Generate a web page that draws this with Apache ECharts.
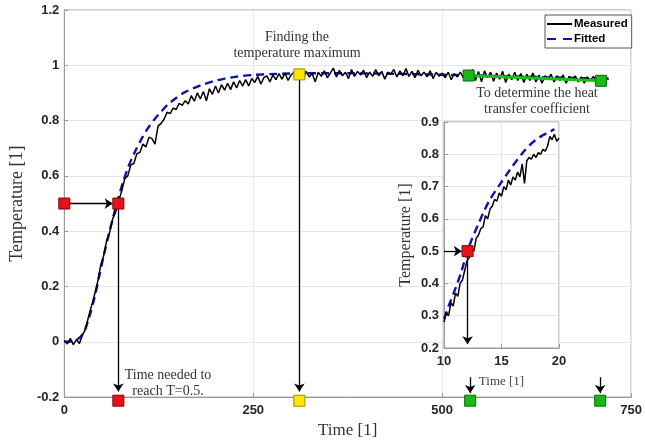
<!DOCTYPE html>
<html>
<head>
<meta charset="utf-8">
<script src="https://cdn.jsdelivr.net/npm/echarts@6/dist/echarts.min.js"></script>
<style>html,body{margin:0;padding:0;background:#fff}#c{width:645px;height:444px}</style>
</head>
<body>
<div id="c"></div>
<script>
// ---------- data ----------
const mainStep = 4; // sample spacing of measured trace (Time units)
const measuredMain = [
0.005,-0.008,0.012,-0.01,0.008,-0.006,0.025,0.045,0.09,0.13,
0.17,0.215,0.275,0.31,0.365,0.395,0.445,0.47,0.51,0.545,
0.59,0.6,0.64,0.645,0.68,0.685,0.715,0.705,0.74,0.735,
0.715,0.78,0.79,0.805,0.83,0.825,0.845,0.84,0.862,0.855,
0.872,0.86,0.89,0.87,0.9,0.878,0.905,0.872,0.915,0.895,
0.925,0.9,0.93,0.91,0.935,0.912,0.94,0.918,0.945,0.925,
0.948,0.925,0.952,0.938,0.96,0.932,0.955,0.962,0.94,0.965,
0.948,0.97,0.95,0.972,0.945,0.965,0.975,0.955,0.968,0.95,
0.978,0.958,0.97,0.94,0.975,0.96,0.98,0.955,0.972,0.99,
0.958,0.982,0.962,0.975,0.952,0.985,0.96,0.978,0.965,0.982,
0.955,0.975,0.96,0.985,0.962,0.978,0.95,0.975,0.968,0.985,
0.958,0.98,0.962,0.988,0.96,0.978,0.955,0.982,0.962,0.975,
0.958,0.98,0.952,0.975,0.96,0.972,0.955,0.975,0.948,0.97,
0.958,0.975,0.955,0.98,0.958,0.985,0.945,0.978,0.94,0.98,
0.955,0.975,0.942,0.972,0.95,0.978,0.938,0.968,0.948,0.975,
0.945,0.97,0.938,0.968,0.945,0.972,0.94,0.965,0.935,0.962,
0.948,0.968,0.94,0.962,0.945,0.965,0.935,0.96,0.945,0.962,
0.94,0.958,0.935,0.958,0.945,0.96,0.938,0.955,0.942,0.956,
0.948
];
const fittedMainT = [0,15,25,33,40,46,52,59,65,72,78,85,93,102,110,120,128,137,148,159,172,185,198,211,228,250,280,320,380,440,500,560,620,680,720];
const fittedMainV = [0,0.005,0.03,0.09,0.16,0.235,0.31,0.39,0.455,0.525,0.58,0.635,0.685,0.733,0.77,0.807,0.832,0.858,0.882,0.902,0.918,0.932,0.943,0.951,0.959,0.965,0.969,0.971,0.971,0.969,0.966,0.962,0.958,0.954,0.952];

const insetStart = 10, insetStep = 0.2;
const measuredInset = [
0.28,0.31,0.30,0.34,0.33,0.37,0.36,0.40,0.41,0.44,
0.47,0.48,0.51,0.50,0.54,0.55,0.57,0.575,0.61,0.60,
0.63,0.64,0.66,0.655,0.68,0.67,0.70,0.69,0.72,0.705,
0.73,0.72,0.745,0.73,0.77,0.71,0.78,0.79,0.785,0.80,
0.79,0.805,0.80,0.815,0.81,0.825,0.855,0.845,0.862,0.84,
0.85
];
const fittedInsetT = [10,10.4,11,11.5,12,12.4,13,13.5,14,14.86,15.5,16,16.9,17.5,18,18.5,19,19.6];
const fittedInsetV = [0.29,0.33,0.385,0.435,0.495,0.535,0.585,0.625,0.66,0.707,0.74,0.765,0.807,0.83,0.845,0.857,0.866,0.878];

// key points
const redPts = [[0,0.5],[71.5,0.5],[71.5,-0.213]];
const yellowPts = [[311,0.967],[311,-0.213]];
const greenPts = [[535,0.963],[710,0.944],[537,-0.213],[709,-0.213]];
const greenLine = [[535,0.963],[710,0.944]];
const insetRed = [[12.05,0.5]];

const arrowsMain = [
  [[4,0.5],[64,0.5]],
  [[71.5,0.5],[71.5,-0.18]],
  [[311,0.967],[311,-0.18]],
  [[537,-0.128],[537,-0.185]],
  [[709,-0.128],[709,-0.185]]
];
const arrowsInset = [
  [[10,0.5],[11.55,0.5]],
  [[12.05,0.5],[12.05,0.212]]
];

const xTicksMain = {min:0,max:750,interval:250};
const yTicksMain = {min:-0.2,max:1.2,interval:0.2};
const xTicksInset = {min:10,max:20,interval:5};
const yTicksInset = {min:0.2,max:0.9,interval:0.1};

const legendNames = ['Measured','Fitted'];
const annotations = [
  {text:'Finding the\ntemperature maximum', x:297, y:29},
  {text:'To determine the heat\ntransfer coefficient', x:537, y:85},
  {text:'Time needed to\nreach T=0.5.', x:168, y:367}
];

// ---------- chart ----------
const serif = '"Liberation Serif", "DejaVu Serif", serif';
const sans = '"Liberation Sans", Arial, sans-serif';
const axisGray = '#9a9a9a';
const gridGray = '#e6e6e6';
const labelCol = '#262626';
const blue = '#0c14a8';

const mainMeasured = measuredMain.map((v,i)=>[i*mainStep, v]);
const mainFitted = fittedMainT.map((t,i)=>[t, fittedMainV[i]]);
const insMeasured = measuredInset.map((v,i)=>[+(insetStart+i*insetStep).toFixed(2), v]);
const insFitted = fittedInsetT.map((t,i)=>[t, fittedInsetV[i]]);

function axisCommon(ticks, gridIndex, z){
  return Object.assign({
    type:'value', gridIndex, z,
    axisLine:{show:true,onZero:false,lineStyle:{color:axisGray,width:1}},
    axisTick:{show:true,inside:true,length:4,lineStyle:{color:axisGray}},
    splitLine:{show:true,lineStyle:{color:gridGray,width:1}}
  }, ticks);
}
const tickLabel = (margin)=>({color:labelCol,fontFamily:sans,fontWeight:'bold',fontSize:13,margin});

const chart = echarts.init(document.getElementById('c'), null, {renderer:'canvas'});
const markerStyle = (fill, border)=>({color:fill,borderColor:border,borderWidth:1,opacity:1});

chart.setOption({
  animation:false,
  backgroundColor:'#fff',
  grid:[
    {left:59,top:10,width:576,height:392,show:true,borderColor:axisGray,borderWidth:1,backgroundColor:'transparent',z:0},
    {left:444,top:122,width:115,height:226,show:true,borderColor:axisGray,borderWidth:1,backgroundColor:'#fff',z:6}
  ],
  xAxis:[
    Object.assign(axisCommon(xTicksMain,0,1),{name:'Time [1]',nameLocation:'middle',nameGap:24,
      nameTextStyle:{fontFamily:serif,fontSize:17,color:'#333'},axisLabel:tickLabel(7)}),
    Object.assign(axisCommon(xTicksInset,1,7),{name:'Time [1]',nameLocation:'middle',nameGap:27,
      nameTextStyle:{fontFamily:serif,fontSize:13,color:'#444'},axisLabel:tickLabel(7)})
  ],
  yAxis:[
    Object.assign(axisCommon(yTicksMain,0,1),{name:'Temperature [1]',nameLocation:'middle',nameGap:34,
      nameTextStyle:{fontFamily:serif,fontSize:18,color:'#333'},axisLabel:tickLabel(5)}),
    Object.assign(axisCommon(yTicksInset,1,7),{name:'Temperature [1]',nameLocation:'middle',nameGap:30,
      nameTextStyle:{fontFamily:serif,fontSize:16,color:'#333'},axisLabel:tickLabel(5)})
  ],
  legend:{
    show:true, orient:'vertical', left:545, top:15,
    data:[
      {name:legendNames[0],icon:'path://M0,0H25V2H0Z',itemStyle:{color:'#000'}},
      {name:legendNames[1],icon:'path://M0,0H9V2H0Z M16,0H25V2H16Z',itemStyle:{color:blue}}
    ],
    itemWidth:25, itemHeight:2.2, itemGap:3,
    padding:[3,4,3,2],
    backgroundColor:'#fff', borderColor:'#555', borderWidth:1,
    textStyle:{fontFamily:sans,fontWeight:'bold',fontSize:11.5,color:'#000',padding:[0,0,0,-3]},
    z:20
  },
  series:[
    {name:legendNames[0],type:'line',xAxisIndex:0,yAxisIndex:0,data:mainMeasured,showSymbol:false,symbol:'none',
      lineStyle:{color:'#000',width:1.5},itemStyle:{color:'#000'},z:3},
    {name:legendNames[1],type:'line',xAxisIndex:0,yAxisIndex:0,data:mainFitted,showSymbol:false,symbol:'none',smooth:0.3,
      lineStyle:{color:blue,width:2.4,type:[8,5]},itemStyle:{color:blue},z:2},
    {type:'line',xAxisIndex:0,yAxisIndex:0,data:greenLine,showSymbol:false,symbol:'none',
      lineStyle:{color:'#16c016',width:3},z:4},
    {type:'lines',coordinateSystem:'cartesian2d',xAxisIndex:0,yAxisIndex:0,clip:false,
      symbol:['none','arrow'],symbolSize:[0,8],
      lineStyle:{color:'#000',width:1.3,opacity:1,curveness:0},
      data:arrowsMain.map(c=>({coords:c})),z:4},
    {type:'scatter',xAxisIndex:0,yAxisIndex:0,clip:false,symbol:'rect',symbolSize:11,
      data:redPts,itemStyle:markerStyle('#e8101a','#8a0000'),z:5},
    {type:'scatter',xAxisIndex:0,yAxisIndex:0,clip:false,symbol:'rect',symbolSize:11,
      data:yellowPts,itemStyle:markerStyle('#ffe600','#a08a00'),z:5},
    {type:'scatter',xAxisIndex:0,yAxisIndex:0,clip:false,symbol:'rect',symbolSize:11,
      data:greenPts,itemStyle:markerStyle('#19b819','#0a6a0a'),z:5},
    // inset
    {name:legendNames[0],type:'line',xAxisIndex:1,yAxisIndex:1,data:insMeasured,showSymbol:false,symbol:'none',
      lineStyle:{color:'#000',width:1.5},itemStyle:{color:'#000'},z:9},
    {name:legendNames[1],type:'line',xAxisIndex:1,yAxisIndex:1,data:insFitted,showSymbol:false,symbol:'none',smooth:0.3,
      lineStyle:{color:blue,width:2.4,type:[8,5]},itemStyle:{color:blue},z:8},
    {type:'lines',coordinateSystem:'cartesian2d',xAxisIndex:1,yAxisIndex:1,clip:false,
      symbol:['none','arrow'],symbolSize:[0,8],
      lineStyle:{color:'#000',width:1.3,opacity:1,curveness:0},
      data:arrowsInset.map(c=>({coords:c})),z:10},
    {type:'scatter',xAxisIndex:1,yAxisIndex:1,clip:false,symbol:'rect',symbolSize:11,
      data:insetRed,itemStyle:markerStyle('#e8101a','#8a0000'),z:11}
  ],
  graphic: annotations.map(a=>({
    type:'text', x:a.x, y:a.y, z:20,
    style:{text:a.text,fill:'#333',font:'14px '+serif,textAlign:'center',textVerticalAlign:'top',lineHeight:16}
  }))
});
</script>
</body>
</html>
